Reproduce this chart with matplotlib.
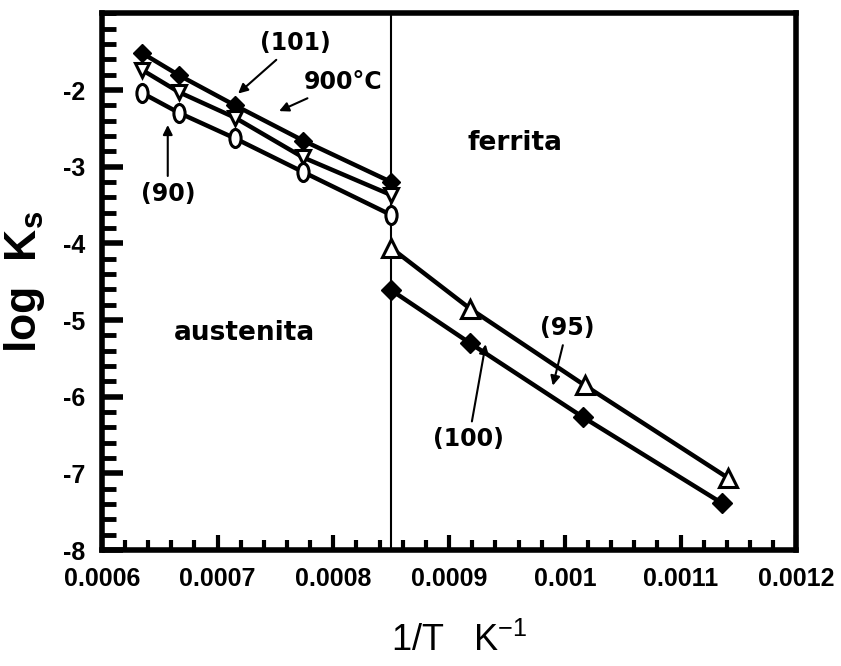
#!/usr/bin/env python3
# -*- coding: utf-8 -*-
"""
log Ks vs 1/T for austenite and ferrite planes
"""

import numpy as np
import matplotlib
matplotlib.use('Agg')
import matplotlib.pyplot as plt
from matplotlib.path import Path
from matplotlib.ticker import MultipleLocator

# austenite (1/T < 0.00085)
aus_x = [0.000635, 0.000667, 0.000715, 0.000774, 0.00085]
aus_101 = [-1.52, -1.81, -2.20, -2.66, -3.20]
aus_900 = [-1.74, -2.03, -2.36, -2.88, -3.37]
aus_90 = [-2.04, -2.30, -2.63, -3.07, -3.63]

# ferrite (1/T > 0.00085)
fer_x95 = [0.00085, 0.000918, 0.001017, 0.001141]
fer_95 = [-4.06, -4.85, -5.85, -7.06]
fer_x100 = [0.00085, 0.000918, 0.001016, 0.001136]
fer_100 = [-4.61, -5.30, -6.27, -7.39]

x_boundary = 0.00085
x_ticks = [0.0006, 0.0007, 0.0008, 0.0009, 0.001, 0.0011, 0.0012]
x_ticklabels = ['0.0006', '0.0007', '0.0008', '0.0009', '0.001', '0.0011', '0.0012']
y_ticks = [-8, -7, -6, -5, -4, -3, -2]


def plot_ks():
    plt.rcParams['font.family'] = ['Liberation Sans', 'DejaVu Sans']
    plt.rcParams['axes.unicode_minus'] = False
    plt.rcParams['mathtext.default'] = 'regular'

    fig = plt.figure(figsize=(8.41, 6.66), dpi=100)
    ax = fig.add_axes([0.121, 0.174, 0.826, 0.806])

    # tall open ellipse marker
    circ = Path.unit_circle()
    ellipse = Path(circ.vertices * np.array([0.62, 1.0]), circ.codes)

    lw = 3.2
    ax.plot(aus_x, aus_101, '-', color='black', lw=lw, marker='D', ms=9,
            mfc='black', mec='black', zorder=3)
    ax.plot(aus_x, aus_900, '-', color='black', lw=lw, marker='v', ms=10,
            mfc='white', mec='black', mew=2.2, zorder=4)
    ax.plot(aus_x, aus_90, '-', color='black', lw=lw, marker=ellipse, ms=13,
            mfc='white', mec='black', mew=2.2, zorder=4)
    ax.plot(fer_x95, fer_95, '-', color='black', lw=lw, marker='^', ms=13,
            mfc='white', mec='black', mew=2.2, zorder=4)
    ax.plot(fer_x100, fer_100, '-', color='black', lw=lw, marker='D', ms=10,
            mfc='black', mec='black', zorder=3)

    ax.axvline(x_boundary, color='black', lw=1.5, zorder=2)

    ax.set_xlim(0.0006, 0.0012)
    ax.set_ylim(-8, -1)
    ax.set_xticks(x_ticks)
    ax.set_xticklabels(x_ticklabels)
    ax.set_yticks(y_ticks)
    ax.xaxis.set_minor_locator(MultipleLocator(0.00002))
    ax.yaxis.set_minor_locator(MultipleLocator(0.2))

    ax.tick_params(axis='both', which='both', direction='in', top=False, right=False)
    ax.tick_params(axis='y', which='major', length=15, width=4, pad=12)
    ax.tick_params(axis='y', which='minor', length=10, width=3.5)
    ax.tick_params(axis='x', which='major', length=11, width=3, pad=12)
    ax.tick_params(axis='x', which='minor', length=7, width=3)
    for lab in ax.get_xticklabels() + ax.get_yticklabels():
        lab.set_fontsize(18)
        lab.set_fontweight('bold')

    for sp in ax.spines.values():
        sp.set_linewidth(4)

    tk = dict(fontsize=17, fontweight='bold', ha='center', va='center',
              family='DejaVu Sans')
    arw = dict(arrowstyle='-|>', color='black', lw=1.5, mutation_scale=14)
    ax.annotate('(101)', xy=(0.000716, -2.07), xytext=(0.000767, -1.39),
                arrowprops=arw, **tk)
    ax.annotate('900°C', xy=(0.000751, -2.29), xytext=(0.000808, -1.90),
                arrowprops=arw, **tk)
    ax.annotate('(90)', xy=(0.000657, -2.42), xytext=(0.000657, -3.35),
                arrowprops=arw, **tk)
    ax.annotate('(95)', xy=(0.000989, -5.89), xytext=(0.001002, -5.10),
                arrowprops=arw, **tk)
    ax.annotate('(100)', xy=(0.000932, -5.28), xytext=(0.000917, -6.55),
                arrowprops=arw, **tk)

    big = dict(tk, fontsize=19)
    ax.text(0.000957, -2.69, 'ferrita', **big)
    ax.text(0.000723, -5.17, 'austenita', **big)

    ax.set_ylabel('log  K$_s$', fontsize=32, fontweight='bold', va='center')
    ax.yaxis.set_label_coords(-0.111, 0.5)
    ax.set_xlabel('1/T   K$^{-1}$', fontsize=26, va='center')
    ax.xaxis.set_label_coords(0.515, -0.17)

    fig.savefig('out.png', dpi=100)


if __name__ == '__main__':
    plot_ks()
